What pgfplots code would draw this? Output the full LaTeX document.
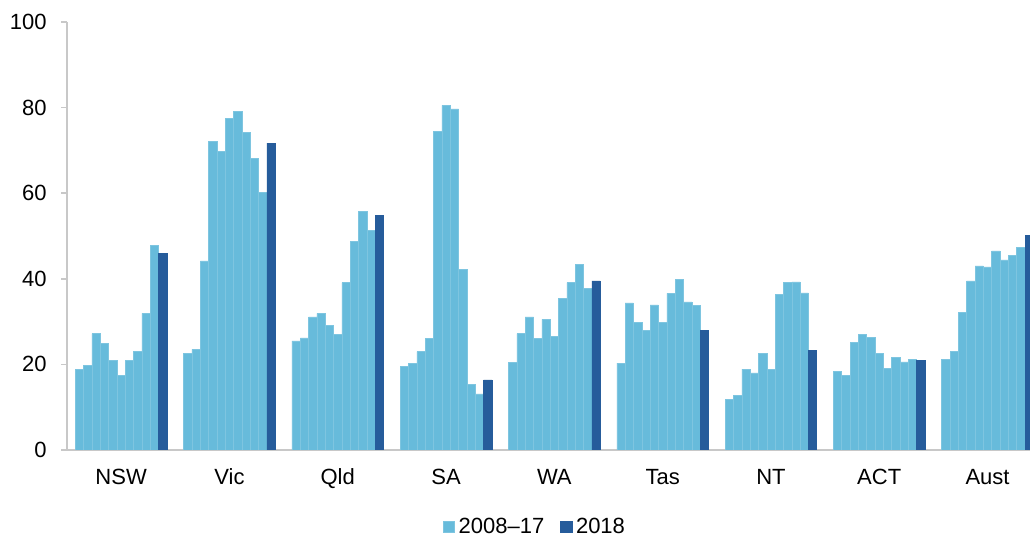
\documentclass[border=0pt]{standalone}
\usepackage{pgfplots}
\pgfplotsset{compat=1.18}
\usepackage{fontspec}
\setmainfont{Liberation Sans}
\definecolor{lightbar}{RGB}{103,187,219}
\definecolor{darkbar}{RGB}{38,92,155}
\definecolor{axisgrey}{RGB}{200,200,200}

\begin{document}
\begin{tikzpicture}
\useasboundingbox (0,0) rectangle (515pt,267.5pt);
\begin{axis}[
    at={(33.5pt,42.5pt)}, anchor=south west,
    scale only axis,
    width=481.5pt, height=214pt,
    xmin=0, xmax=115.6,
    ymin=0, ymax=100,
    ytick={0,20,...,100},
    xtick={6.5,19.5,32.5,45.5,58.5,71.5,84.5,97.5,110.5},
    xticklabels={NSW,Vic,Qld,SA,WA,Tas,NT,ACT,Aust},
    axis lines*=left,
    axis line style={axisgrey, line width=0.8pt},
    x axis line style={-},
    y axis line style={-},
    tick align=outside,
    xtick style={draw=none},
    ytick style={axisgrey, line width=0.8pt},
    major tick length=3pt,
    /pgf/number format/assume math mode=true,
    tick label style={font=\fontsize{11}{13}\selectfont, text=black},
    yticklabel style={anchor=east, inner sep=0pt, xshift=-7pt},
    xticklabel style={anchor=north, inner sep=0pt, yshift=-6pt,
        text height=8pt, text depth=2pt},
    ybar, bar width=1,
    legend style={draw=none, at={(0.487,-0.18)}, anchor=center,
        legend columns=2, font=\fontsize{11}{13}\selectfont,
        /tikz/every even column/.append style={column sep=6pt}},
    legend image code/.code={\fill[#1] (0pt,-2.8pt) rectangle (5.6pt,2.8pt);},
]
\addplot[ybar, bar shift=0pt, fill=lightbar, draw=lightbar!85!white, line width=0.25pt]
table {
x y
1.5 18.9
2.5 19.7
3.5 27.2
4.5 24.9
5.5 21.0
6.5 17.5
7.5 21.0
8.5 23.0
9.5 31.9
10.5 47.8
14.5 22.6
15.5 23.5
16.5 44.2
17.5 72.1
18.5 69.8
19.5 77.5
20.5 79.1
21.5 74.2
22.5 68.1
23.5 60.2
27.5 25.5
28.5 26.2
29.5 31.1
30.5 31.9
31.5 29.2
32.5 27.1
33.5 39.1
34.5 48.7
35.5 55.7
36.5 51.4
40.5 19.5
41.5 20.2
42.5 23.0
43.5 26.1
44.5 74.5
45.5 80.5
46.5 79.7
47.5 42.2
48.5 15.3
49.5 13.1
53.5 20.5
54.5 27.2
55.5 31.1
56.5 26.0
57.5 30.5
58.5 26.5
59.5 35.5
60.5 39.1
61.5 43.3
62.5 37.7
66.5 20.3
67.5 34.4
68.5 29.9
69.5 27.9
70.5 33.9
71.5 29.9
72.5 36.6
73.5 39.8
74.5 34.6
75.5 33.8
79.5 11.8
80.5 12.8
81.5 18.9
82.5 18.0
83.5 22.6
84.5 18.9
85.5 36.3
86.5 39.1
87.5 39.3
88.5 36.7
92.5 18.3
93.5 17.4
94.5 25.1
95.5 27.0
96.5 26.3
97.5 22.6
98.5 19.1
99.5 21.6
100.5 20.6
101.5 21.2
105.5 21.2
106.5 23.0
107.5 32.2
108.5 39.5
109.5 43.0
110.5 42.8
111.5 46.5
112.5 44.4
113.5 45.5
114.5 47.4
};
\addlegendentry{2008--17}
\addplot[ybar, bar shift=0pt, fill=darkbar, draw=darkbar, line width=0.25pt]
table {
x y
11.5 46.0
24.5 71.7
37.5 54.9
50.5 16.4
63.5 39.5
76.5 27.9
89.5 23.3
102.5 20.9
115.5 50.2
};
\addlegendentry{2018}
\end{axis}
\end{tikzpicture}
\end{document}
